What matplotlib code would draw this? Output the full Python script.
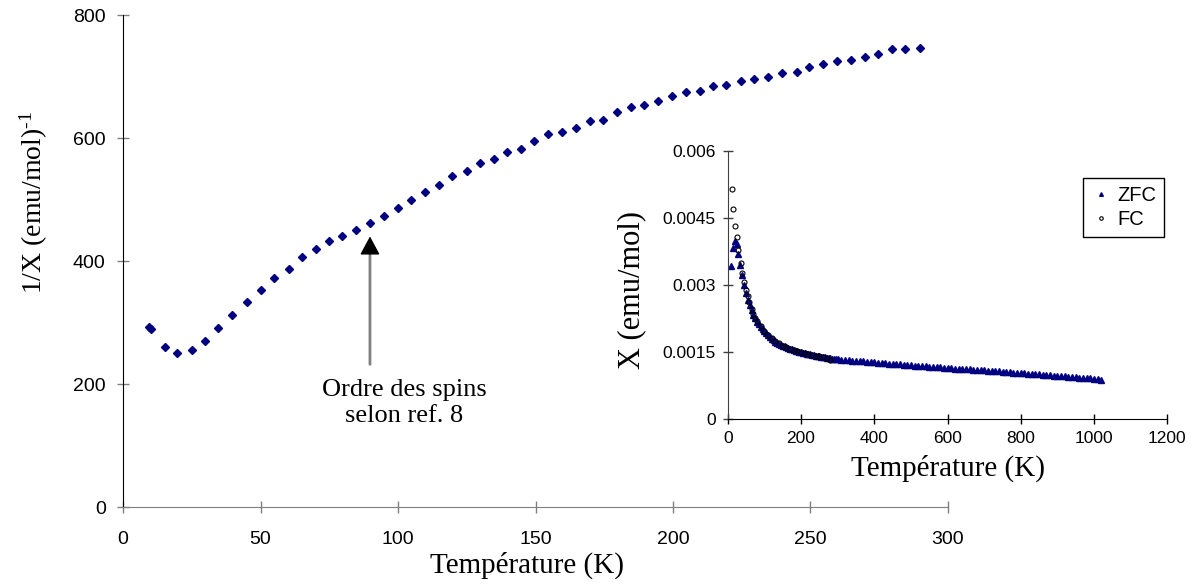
import matplotlib
matplotlib.use('Agg')
import matplotlib.pyplot as plt

plt.rcParams['font.family'] = ['Liberation Sans', 'DejaVu Sans']
plt.rcParams['mathtext.fontset'] = 'custom'
plt.rcParams['mathtext.rm'] = 'Liberation Serif'
plt.rcParams['mathtext.it'] = 'Liberation Serif'

SERIF = ['Liberation Serif', 'DejaVu Serif']

# main plot: 1/X versus temperature
temp_main = [9.5, 10.1, 15.3, 19.7, 24.9, 29.7, 34.7, 39.8, 45.0, 50.1,
             54.9, 60.2, 65.0, 70.0, 74.8, 79.8, 84.8, 89.8, 95.0, 100.0,
             104.7, 109.7, 114.9, 119.8, 125.1, 129.8, 134.9, 139.7, 144.8, 149.5,
             154.7, 159.7, 164.7, 169.7, 174.6, 179.5, 184.7, 189.6, 194.6, 199.5,
             204.6, 209.7, 214.6, 219.4, 224.6, 229.3, 234.4, 239.8, 245.1, 249.5,
             254.5, 259.5, 264.6, 269.8, 274.6, 279.5, 284.5, 289.9]
inv_chi = [293, 290, 260, 251, 256, 270, 291, 312, 334, 353,
           372, 387, 406, 419, 432, 440, 450, 462, 473, 486,
           500, 513, 524, 538, 546, 559, 566, 577, 582, 595,
           606, 610, 617, 628, 630, 642, 650, 653, 661, 669,
           675, 677, 684, 686, 692, 696, 699, 705, 707, 715,
           721, 725, 727, 731, 737, 744, 745, 746]

# inset: X (emu/mol) versus temperature, ZFC and FC
temp_zfc = [8, 14, 19, 24, 29, 34, 39, 44, 49, 54, 60, 65, 70, 75, 80, 85, 90, 95,
            100, 105, 110, 115, 120, 125, 130, 135, 140, 145, 150, 155, 160, 165,
            170, 175, 180, 185, 190, 195, 200, 205, 210, 215, 220, 225, 230, 235,
            240, 245, 250, 255, 260, 265, 270, 275, 280, 285, 290, 295,
            300, 310, 320, 330, 340, 350, 360, 370, 380, 390,
            400, 410, 420, 430, 440, 450, 460, 470, 480, 490,
            500, 510, 520, 530, 540, 550, 560, 570, 580, 590,
            600, 610, 620, 630, 640, 650, 660, 670, 680, 690,
            700, 710, 720, 730, 740, 750, 760, 770, 780, 790,
            800, 810, 820, 830, 840, 850, 860, 870, 880, 890,
            900, 910, 920, 930, 940, 950, 960, 970, 980, 990,
            1000, 1010, 1020]
chi_zfc = [3.42, 3.83, 3.98, 3.92, 3.70, 3.44, 3.22, 2.99, 2.81, 2.66, 2.55, 2.44,
           2.33, 2.25, 2.18, 2.12, 2.07, 2.02, 1.97, 1.92, 1.87, 1.83, 1.79, 1.76,
           1.73, 1.70, 1.68, 1.66, 1.645, 1.63, 1.61, 1.59, 1.575, 1.56, 1.545, 1.53,
           1.515, 1.50, 1.49, 1.48, 1.47, 1.46, 1.45, 1.445, 1.435, 1.43, 1.42, 1.41,
           1.405, 1.395, 1.39, 1.38, 1.375, 1.365, 1.36, 1.35, 1.345, 1.34,
           1.335, 1.328, 1.321, 1.314, 1.307, 1.300, 1.294, 1.288, 1.282, 1.276,
           1.268, 1.262, 1.255, 1.248, 1.242, 1.235, 1.228, 1.222, 1.215, 1.208,
           1.201, 1.195, 1.189, 1.183, 1.177, 1.171, 1.165, 1.159, 1.153, 1.147,
           1.141, 1.136, 1.130, 1.125, 1.119, 1.114, 1.108, 1.103, 1.097, 1.092,
           1.086, 1.080, 1.074, 1.069, 1.063, 1.057, 1.051, 1.045, 1.039, 1.033,
           1.027, 1.021, 1.015, 1.009, 1.002, 0.996, 0.990, 0.984, 0.978, 0.971,
           0.965, 0.959, 0.952, 0.946, 0.940, 0.933, 0.927, 0.920, 0.914, 0.907,
           0.900, 0.890, 0.878]
temp_fc = [11, 15, 19, 25, 29, 35, 39, 45, 49, 55, 59, 65, 70, 75, 80, 90, 100,
           110, 120, 130, 140, 150, 160, 170, 180, 190, 200, 210, 220, 230, 240,
           250, 260, 270, 280]
chi_fc = [5.15, 4.70, 4.33, 4.07, 3.79, 3.50, 3.27, 3.07, 2.88, 2.755, 2.62, 2.47,
          2.36, 2.27, 2.20, 2.08, 1.98, 1.89, 1.81, 1.745, 1.69, 1.645, 1.61, 1.575,
          1.545, 1.515, 1.49, 1.47, 1.45, 1.435, 1.42, 1.405, 1.39, 1.37, 1.33]
chi_zfc = [c / 1000 for c in chi_zfc]
chi_fc = [c / 1000 for c in chi_fc]

NAVY = '#000080'

fig = plt.figure(figsize=(11.98, 5.85), dpi=100)

# --- main axes
ax = fig.add_axes([0.1027, 0.1333, 0.6886, 0.841])
ax.plot(temp_main, inv_chi, 'D', color=NAVY, ms=4.2, ls='none')
ax.set_xlim(0, 300)
ax.set_ylim(0, 800)
ax.set_xticks([0, 50, 100, 150, 200, 250, 300])
ax.set_yticks([0, 200, 400, 600, 800])
for s in ['top', 'right']:
    ax.spines[s].set_visible(False)
ax.spines['left'].set_color('black')
ax.spines['bottom'].set_color('#808080')
ax.tick_params(direction='inout', length=9, width=1, labelsize=14,
               colors='#808080', labelcolor='black')
ax.tick_params(axis='y', pad=8)
ax.tick_params(axis='x', pad=13)
ax.set_xlabel('Température (K)', family=SERIF, fontsize=21)
ax.xaxis.set_label_coords(0.49, -0.09)
ax.set_ylabel(r'1/X (emu/mol)$^{\text{-1}}$', family=SERIF, fontsize=20)
ax.yaxis.set_label_coords(-0.089, 0.62)

# annotation arrow: gray shaft, black head
ax.annotate('', xy=(89.8, 416), xytext=(89.8, 232),
            arrowprops=dict(arrowstyle='-', color='#808080', lw=2,
                            shrinkA=0, shrinkB=0))
ax.annotate('', xy=(89.8, 440), xytext=(89.8, 412),
            arrowprops=dict(arrowstyle='-|>,head_length=1.15,head_width=0.62',
                            color='black', lw=1, shrinkA=0, shrinkB=0))
ax.text(102.2, 169, 'Ordre des spins\nselon ref. 8', family=SERIF, fontsize=19,
        ha='center', va='center', linespacing=1.25)

# --- inset axes
ax_in = fig.add_axes([0.6075, 0.2838, 0.3669, 0.4581])
ax_in.plot(temp_zfc, chi_zfc, '^', color=NAVY, ms=3.8, ls='none', label='ZFC')
ax_in.plot(temp_fc, chi_fc, 'o', mfc='none', mec='black', mew=0.8, ms=3.6,
           ls='none', label='FC')
ax_in.set_xlim(0, 1200)
ax_in.set_ylim(0, 0.006)
ax_in.set_xticks([0, 200, 400, 600, 800, 1000, 1200])
ax_in.set_yticks([0, 0.0015, 0.003, 0.0045, 0.006])
ax_in.set_yticklabels(['0', '0.0015', '0.003', '0.0045', '0.006'])
for s in ['top', 'right']:
    ax_in.spines[s].set_visible(False)
ax_in.spines['left'].set_color('#404040')
ax_in.spines['bottom'].set_color('black')
ax_in.tick_params(direction='inout', length=7, width=1, labelsize=12.5, pad=5)
ax_in.tick_params(axis='y', colors='#404040', labelcolor='black')
ax_in.set_xlabel('Température (K)', family=SERIF, fontsize=21)
ax_in.xaxis.set_label_coords(0.5, -0.135)
ax_in.set_ylabel('X (emu/mol)', family=SERIF, fontsize=22)
ax_in.yaxis.set_label_coords(-0.185, 0.48)

leg = ax_in.legend(loc='upper left', bbox_to_anchor=(1083 / 1198, 1 - 178 / 585),
                   bbox_transform=fig.transFigure, fontsize=14.5, markerscale=0.7,
                   handlelength=1.0, handletextpad=0.3, borderpad=0.4,
                   labelspacing=0.25, borderaxespad=0, fancybox=False,
                   edgecolor='black', framealpha=1)
leg.get_frame().set_linewidth(1)

fig.savefig('out.png', dpi=100)
